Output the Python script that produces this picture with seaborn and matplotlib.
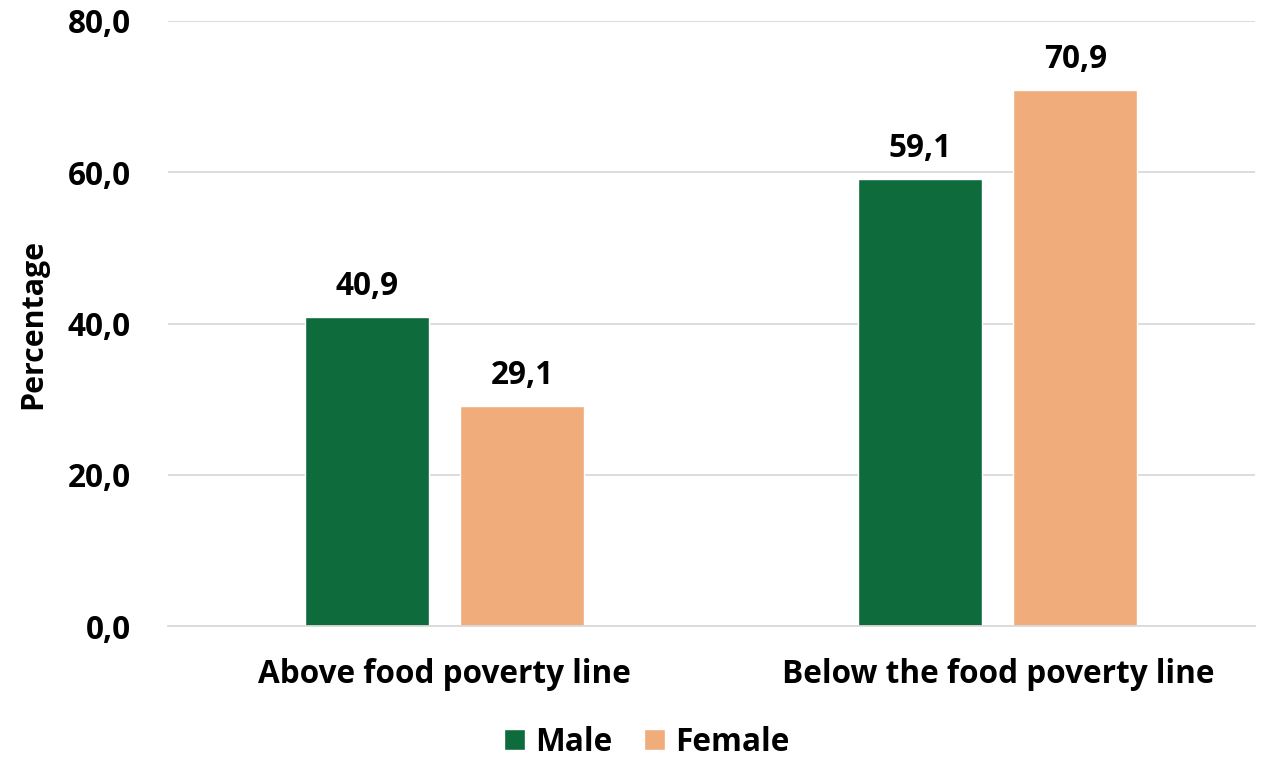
import pandas as pd
import matplotlib.pyplot as plt
import seaborn as sns

# data
categories = ['Above food poverty line', 'Below the food poverty line']
male = [40.9, 59.1]
female = [29.1, 70.9]
sexes = ['Male', 'Female']
colors = ['#0E6B3B', '#F0AC7B']

df = pd.DataFrame({
    'Category': categories * 2,
    'Sex': ['Male'] * 2 + ['Female'] * 2,
    'Value': male + female,
})

sns.set_style('white')
plt.rcParams['font.family'] = ['Open Sans', 'DejaVu Sans']
plt.rcParams['font.weight'] = 'bold'
plt.rcParams['text.color'] = 'black'

fs = 22.7

fig = plt.figure(figsize=(12.69, 7.58), dpi=100)
ax = fig.add_axes([0.1324, 0.1741, 0.8566, 0.7982])

sns.barplot(data=df, x='Category', y='Value', hue='Sex', hue_order=sexes,
            palette=colors, saturation=1, width=0.561, gap=0.2, ax=ax)

# value labels with comma decimals
for cont in ax.containers:
    labs = [f'{b.get_height():.1f}'.replace('.', ',') for b in cont]
    ax.bar_label(cont, labels=labs, padding=10, fontsize=fs, fontweight='bold', color='black')

ax.set_ylim(0, 80)
ax.set_xlim(-0.5, 1.465)
ax.set_yticks([0, 20, 40, 60, 80])
ax.set_yticklabels([f'{v:.1f}'.replace('.', ',') for v in [0, 20, 40, 60, 80]])
ax.tick_params(axis='y', labelsize=fs, length=0, pad=27, labelcolor='black')
ax.tick_params(axis='x', labelsize=fs, length=0, pad=23, labelcolor='black')
for lab in ax.get_xticklabels() + ax.get_yticklabels():
    lab.set_fontweight('bold')

ax.yaxis.grid(True, color='#D9D9D9', linewidth=1.3)
ax.set_axisbelow(True)
for s in ['top', 'right', 'left']:
    ax.spines[s].set_visible(False)
ax.spines['bottom'].set_color('#D9D9D9')
ax.spines['bottom'].set_linewidth(1.3)

ax.set_xlabel('')
ax.set_ylabel('Percentage', fontsize=21.9, fontweight='bold', color='black')
ax.yaxis.set_label_coords(-0.110, 0.5)

ax.legend(loc='center', bbox_to_anchor=(0.51, 0.021), bbox_transform=fig.transFigure,
          ncol=2, frameon=False, handlelength=0.64, handleheight=0.64, handletextpad=0.35,
          columnspacing=1.0, prop={'weight': 'bold', 'size': fs})

fig.savefig('out.png', dpi=100)
